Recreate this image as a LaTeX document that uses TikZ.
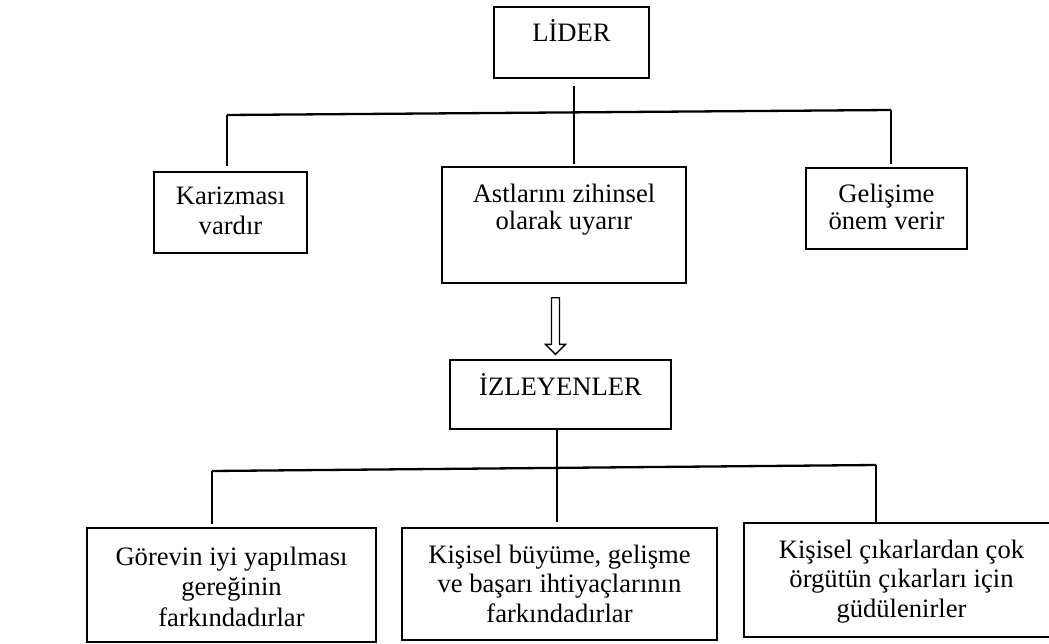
\documentclass[tikz,border=0pt]{standalone}
\usepackage{fontspec}
\setmainfont{Liberation Serif}
\usetikzlibrary{calc}
\newcommand{\bt}[2]{\parbox[t]{420pt}{\centering\fontsize{26.6}{#1}\selectfont #2}}
\begin{document}
\begin{tikzpicture}[x=1pt,y=-1pt,
  box/.style={draw=black, line width=1.3pt, inner sep=0pt, fill=white},
  txt/.style={anchor=base, inner sep=0pt},
  conn/.style={draw=black, line width=2pt},
  bus/.style={draw=black, line width=2.3pt},
  hollow/.style={draw=black, line width=1.3pt, line join=miter}]
\path[use as bounding box, clip] (0,0) rectangle (1049,644);
\fill[white] (0,0) rectangle (1049,644);
% boxes
\node[box, minimum width=155, minimum height=71] (lider) at (571.5,42.5) {};
\node[box, minimum width=153, minimum height=81] (kariz) at (230.5,212.5) {};
\node[box, minimum width=244, minimum height=116] (astl) at (564,225) {};
\node[box, minimum width=161, minimum height=81] (gelis) at (886.5,208.5) {};
\node[box, minimum width=221, minimum height=69] (izl) at (560.5,394.5) {};
\node[box, minimum width=289, minimum height=114] (b1) at (231.5,585) {};
\node[box, minimum width=315, minimum height=112] (b2) at (559.5,584) {};
\node[box, minimum width=315, minimum height=114] (b3) at (901.5,580) {};
% texts
\node[txt] (liderT) at (571.5,42) {\bt{30}{LİDER}};
\node[txt] (karizT) at (230.5,205) {\bt{30}{Karizması\\vardır}};
\node[txt] (astlT) at (564,203) {\bt{27}{Astlarını zihinsel\\olarak uyarır}};
\node[txt] (gelisT) at (886.5,203) {\bt{27}{Gelişime\\önem verir}};
\node[txt] (izlT) at (560.5,395) {\bt{30}{İZLEYENLER}};
\node[txt] (b1T) at (231.5,565) {\bt{30.5}{Görevin iyi yapılması\\gereğinin\\farkındadırlar}};
\node[txt] (b2T) at (559.5,563) {\bt{29.5}{Kişisel büyüme, gelişme\\ve başarı ihtiyaçlarının\\farkındadırlar}};
\node[txt] (b3T) at (901.5,558) {\bt{29.5}{Kişisel çıkarlardan çok\\örgütün çıkarları için\\güdülenirler}};
% connectors, upper level
\coordinate (busA1) at (227,115);
\coordinate (busA2) at (891,110);
\draw[bus] (busA1) -- (busA2);
\draw[conn] ([xshift=2.5pt,yshift=-7pt]lider.south) -- ([xshift=10pt,yshift=2pt]astl.north);
\draw[conn] (busA1) -- ([yshift=5pt]busA1 |- kariz.north);
\draw[conn] (busA2) -- ([yshift=3pt]busA2 |- gelis.north);
% hollow arrow
\coordinate (arT) at ([xshift=-8.5pt,yshift=-14pt]astl.south);
\coordinate (arB) at ([xshift=-5pt,yshift=5pt]izl.north);
\draw[hollow] ($(arT)+(-4,0)$) -- ($(arT)+(4,0)$) -- ($(arB)+(4,-10)$) -- ($(arB)+(10,-10)$) -- (arB) -- ($(arB)+(-10,-10)$) -- ($(arB)+(-4,-10)$) -- cycle;
% connectors, lower level
\coordinate (busB1) at (212,471);
\coordinate (busB2) at (876,465);
\draw[bus] (busB1) -- (busB2);
\draw[conn] ([xshift=-3.5pt]izl.south) -- ([xshift=-2.5pt,yshift=5pt]b2.north);
\draw[conn] (busB1) -- ([yshift=3pt]busB1 |- b1.north);
\draw[conn] (busB2) -- (busB2 |- b3.north);
\end{tikzpicture}
\end{document}
